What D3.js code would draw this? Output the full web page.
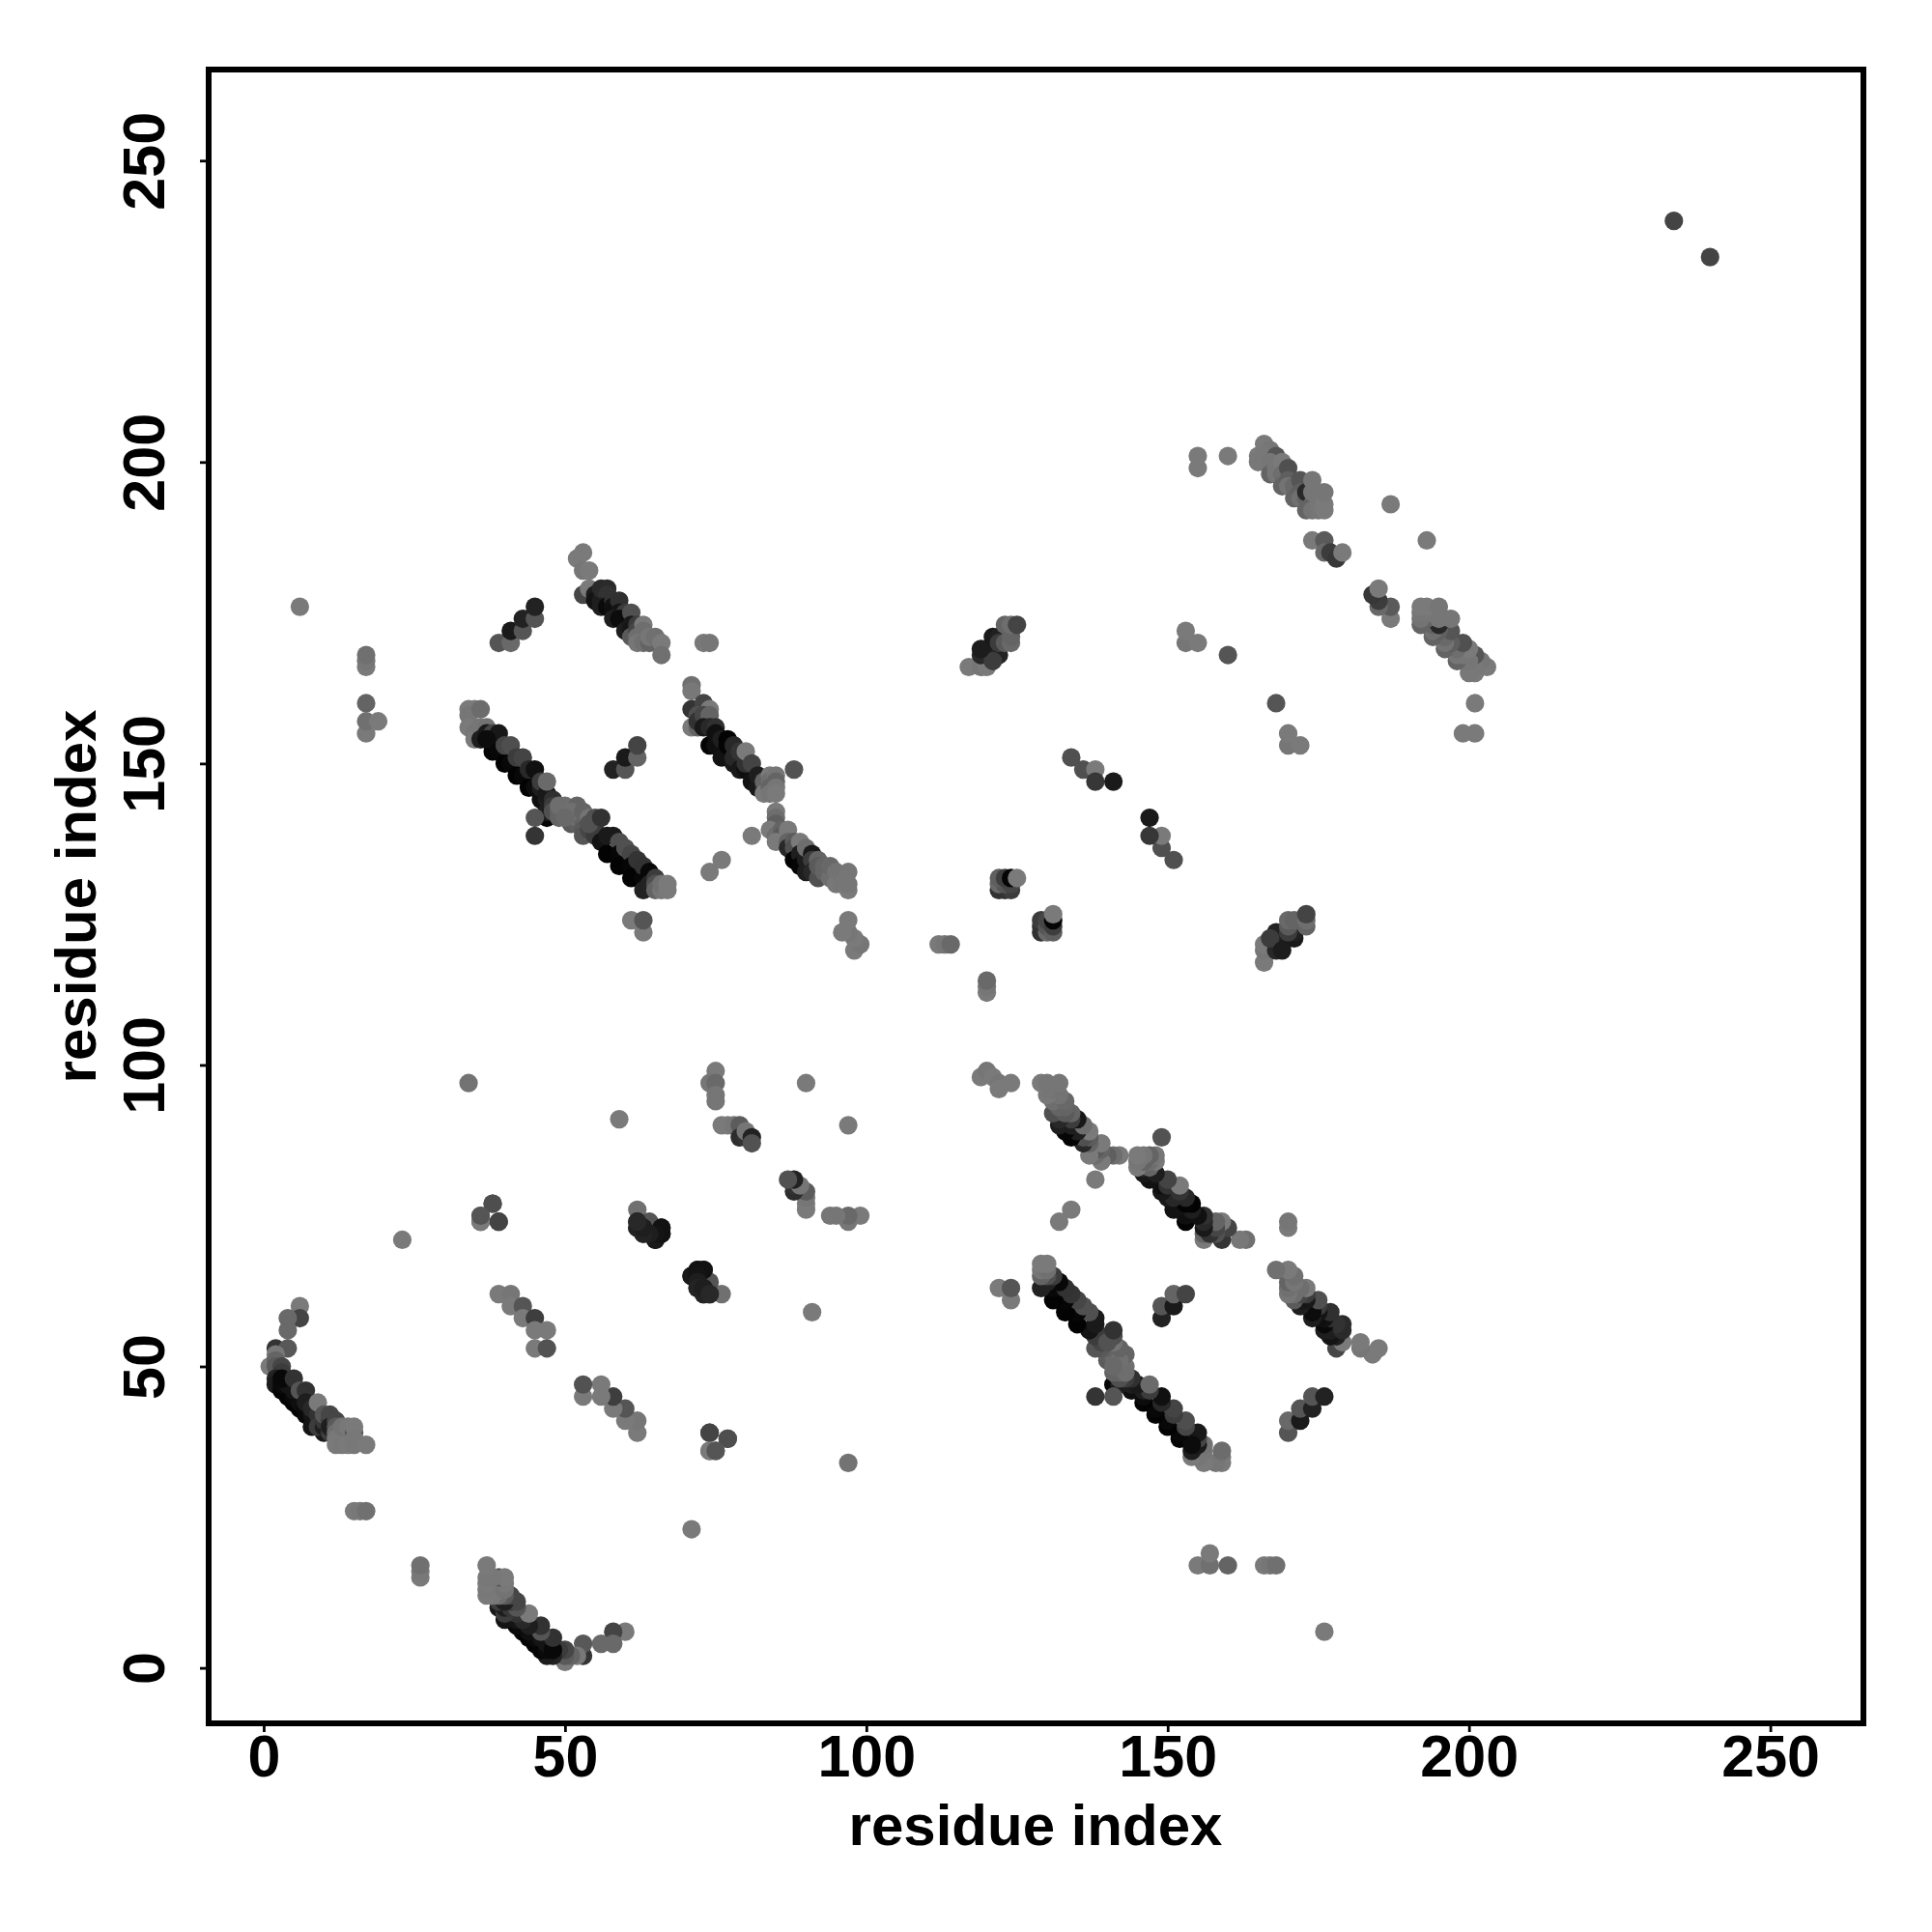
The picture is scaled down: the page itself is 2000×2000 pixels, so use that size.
<!DOCTYPE html>
<html><head><meta charset="utf-8">
<script src="https://cdn.jsdelivr.net/npm/d3@7"></script>
<style>html,body{margin:0;padding:0;background:#fff}svg{display:block}text{font-family:"Liberation Sans",Arial,sans-serif;font-weight:bold;fill:#000}</style>
</head><body><svg id="c" width="2000" height="2000"></svg>
<script>
// contact tables: [residue i, residue j, gray level]; each contact is drawn at (i,j) and (j,i)
const isolated=[[6,176,122],[15,26,122],[16,26,120],[17,26,112],[23,71,122],[17,155,122],[17,157,112],[19,157,122],[17,160,100],[17,166,122],[17,167,118],[17,168,112],[34,97,115],[59,91,122],[74,132,122],[76,134,122],[81,138,122],[90,97,122],[155,199,122],[155,201,122],[160,201,122],[153,170,118],[153,172,122],[155,170,122],[160,168,85],[187,193,122],[174,187,122],[234,240,68]];
const hairpinE=[[6,60,122],[6,58,68],[4,58,105],[4,56,105],[2,53,52],[4,53,88],[1,50,122],[2,52,120],[2,51,100],[2,50,90],[3,50,70],[3,49,60],[2,48,35],[2,47,28],[3,46,5],[4,45,5],[5,44,5],[6,43,3],[7,42,10],[8,41,10],[8,40,20],[10,39,25],[3,47,10],[5,45,10],[5,46,20],[6,44,15],[7,43,10],[4,47,20],[3,48,8],[5,48,50],[6,46,85],[7,46,50],[7,44,30],[8,42,20],[8,43,40],[9,41,25],[9,42,50],[9,44,122],[9,40,60],[10,40,30],[10,41,55],[10,42,85],[11,41,60],[11,42,70],[11,39,60],[11,40,30],[12,41,70],[12,40,90],[12,39,110],[13,39,100],[14,39,100],[13,38,118],[12,38,120],[14,38,120],[13,40,115],[14,40,120],[15,39,85],[15,40,122],[12,37,122],[13,37,120],[14,37,122],[15,37,120],[15,38,120],[17,37,122]];
const strandF=[[39,62,122],[41,62,118],[41,60,122],[43,60,85],[43,58,122],[45,58,62],[45,56,122],[47,56,122],[45,53,122],[47,53,82],[36,75,122],[36,74,88],[39,74,68],[38,77,72]];
const strandG=[[62,76,112],[62,74,30],[62,73,34],[63,72,40],[64,73,28],[65,71,22],[65,72,20],[66,72,25],[66,73,24],[64,74,85],[71,65,25],[72,66,18],[73,66,18],[72,65,20],[72,64,30],[72,63,35],[73,62,35],[73,63,30],[74,62,40],[74,39,68],[77,38,78],[74,36,122],[75,36,85]];
const strandH=[[75,99,122],[74,97,118],[75,97,105],[75,95,118],[75,94,118],[76,90,122],[77,90,122],[78,90,118],[79,90,92],[79,88,45],[80,88,50],[80,89,118],[81,88,34],[81,87,82],[98,119,122],[99,120,118],[98,121,122],[97,122,118],[96,122,122],[97,124,122],[61,124,122],[63,122,122],[63,124,85],[112,120,122],[113,120,118],[114,120,105]];
const bandC1=[[34,159,122],[35,159,122],[34,158,118],[34,156,122],[35,155,118],[35,154,122],[36,156,118],[37,156,115],[36,159,108],[36,154,30],[37,155,26],[38,152,4],[38,154,60],[38,155,70],[39,155,24],[37,154,12],[39,152,8],[40,150,3],[41,150,8],[40,153,70],[41,153,78],[42,148,3],[43,148,8],[42,151,60],[43,151,68],[44,146,3],[45,146,12],[44,149,40],[45,149,16],[46,144,15],[46,146,30],[46,147,60],[47,144,30],[47,145,25],[47,141,6],[47,142,30],[47,147,106],[48,144,48],[48,143,60],[48,142,80],[45,141,85],[45,138,52],[49,142,100],[49,141,100],[51,141,100],[51,140,90],[52,140,95],[52,141,110],[53,140,100],[53,139,90],[50,143,112],[52,143,100],[49,143,110],[51,142,112],[50,141,105],[53,142,100],[54,141,116],[53,138,85],[55,139,60],[54,139,70],[55,138,60],[55,141,80],[54,140,82],[56,141,50],[56,137,20],[57,135,3],[57,138,26],[58,138,26],[59,137,80],[59,135,6],[59,133,3],[60,136,80],[61,135,70],[61,133,6],[61,131,3],[62,134,52],[63,131,8],[63,133,50],[63,129,34],[64,132,8],[64,130,35],[65,131,60],[65,130,80],[65,129,100],[66,129,118],[66,130,112],[67,129,122],[67,130,122]];
const bandC2=[[71,163,112],[71,162,120],[71,159,52],[73,160,68],[74,159,122],[71,156,122],[72,156,100],[72,158,80],[72,157,50],[73,158,70],[74,158,100],[73,156,25],[74,156,40],[75,156,48],[74,153,4],[75,153,15],[75,155,16],[76,154,30],[76,151,18],[77,154,3],[77,153,4],[78,153,40],[78,150,25],[78,151,40],[79,152,52],[79,149,24],[80,149,15],[80,150,50],[80,152,122],[81,150,68],[81,147,18],[82,146,25],[82,148,30],[83,146,40],[83,147,100],[84,148,122],[84,147,110],[85,148,118],[85,147,100],[88,149,82],[83,145,122],[84,146,100],[84,145,118],[85,146,118],[85,145,122],[85,142,122],[85,141,110],[85,140,95],[84,139,122],[85,138,110],[86,139,100],[86,138,90],[85,137,122],[87,139,122],[87,137,100],[87,136,40],[88,137,92],[88,136,80],[89,137,122],[88,134,3],[89,135,30],[89,133,6],[90,134,30],[90,136,110],[90,132,30],[91,135,24],[91,134,60],[91,132,40],[92,134,100],[92,131,80],[92,133,90],[93,133,100],[93,132,100],[94,131,110],[94,133,104],[95,132,115],[95,130,120],[96,131,115],[96,130,118],[97,132,118],[97,129,122],[97,130,118]];
const bandD=[[52,184,122],[53,185,122],[53,182,118],[54,182,122],[53,178,70],[54,179,122],[55,178,30],[55,177,20],[56,177,30],[56,179,42],[57,179,42],[57,178,50],[56,176,30],[57,176,10],[58,177,50],[58,176,18],[58,175,15],[59,177,48],[59,175,20],[60,175,60],[60,174,40],[58,174,30],[59,174,12],[60,172,30],[61,175,80],[61,173,25],[61,172,22],[61,171,90],[62,173,60],[62,172,70],[63,173,122],[62,171,110],[63,172,110],[62,170,118],[63,170,112],[64,170,100],[65,170,100],[64,171,118],[65,171,112],[66,170,122],[66,168,112],[73,170,122],[74,170,118],[39,170,85],[41,170,105],[41,172,26],[43,172,85],[43,174,34],[45,174,85],[45,176,34]];
const clusterMid=[[58,149,34],[60,149,85],[60,151,26],[62,151,100],[62,153,68],[134,151,80],[136,149,80],[138,149,122],[138,147,55],[141,147,26]];
const clusterI=[[122,129,50],[123,129,50],[124,129,60],[122,130,105],[123,130,85],[124,130,70],[122,131,95],[123,131,62],[124,131,6],[125,131,122]];
const clusterH=[[117,166,122],[119,166,118],[120,166,122],[119,168,40],[120,169,30],[121,168,28],[122,168,34],[121,167,60],[119,169,28],[121,171,25],[122,171,32],[122,170,60],[123,170,90],[124,170,105],[124,171,100],[123,173,100],[124,173,110],[125,173,68]];
const bandG=[[165,201,122],[166,203,122],[167,202,118],[166,201,120],[165,200,120],[166,200,120],[168,201,85],[167,200,118],[167,198,100],[168,199,118],[168,198,118],[169,200,122],[169,198,110],[170,199,80],[169,196,100],[170,197,95],[170,196,115],[171,196,105],[171,194,100],[172,197,85],[172,195,95],[172,194,112],[173,194,100],[173,192,100],[173,195,40],[174,193,100],[174,192,115],[174,195,118],[174,197,118],[175,194,118],[175,193,118],[175,192,118],[176,192,122],[176,193,122],[176,195,118],[176,187,90],[176,185,105],[177,185,60],[178,184,55],[179,185,122]];
const tickValues=[0,50,100,150,200,250];
const axisTitle="residue index";

const contacts=[].concat(isolated,hairpinE,strandF,strandG,strandH,bandC1,bandC2,bandD,clusterMid,clusterI,clusterH,bandG);
const svg=d3.select("#c");
const x=d3.scaleLinear().domain([-9.13,265.45]).range([216,1929]);
const y=d3.scaleLinear().domain([-9.2,265.1]).range([1784,72]);
const all=[];
contacts.forEach(d=>{all.push({a:d[0],b:d[1],g:d[2]});all.push({a:d[1],b:d[0],g:d[2]});});
svg.append("g").selectAll("circle").data(all).join("circle")
  .attr("cx",d=>x(d.a)).attr("cy",d=>y(d.b)).attr("r",9.6)
  .attr("fill",d=>d3.rgb(d.g,d.g,d.g));
svg.append("rect").attr("x",216).attr("y",72).attr("width",1713).attr("height",1712)
  .attr("fill","none").attr("stroke","#000").attr("stroke-width",6);
const ax=svg.append("g").attr("transform","translate(0,1784)")
  .call(d3.axisBottom(x).tickValues(tickValues).tickSize(9).tickPadding(2.4));
const ay=svg.append("g").attr("transform","translate(216,0)")
  .call(d3.axisLeft(y).tickValues(tickValues).tickSize(9));
[ax,ay].forEach(g=>{g.select(".domain").remove();
  g.selectAll("line").attr("stroke","#000").attr("stroke-width",2.8);
  g.selectAll("text").style("font-size","61px").style("font-family",'"Liberation Sans"').style("font-weight","bold").attr("fill","#000");});
ay.selectAll("text").attr("x",null).attr("dy",null).attr("y",null).attr("text-anchor","middle")
  .attr("transform","translate(-46,0) rotate(-90)");
svg.append("text").attr("x",1072).attr("y",1910).attr("text-anchor","middle").style("font-size","60px").text(axisTitle);
svg.append("text").attr("transform","translate(99,928) rotate(-90)").attr("text-anchor","middle").style("font-size","60px").text(axisTitle);
</script></body></html>
